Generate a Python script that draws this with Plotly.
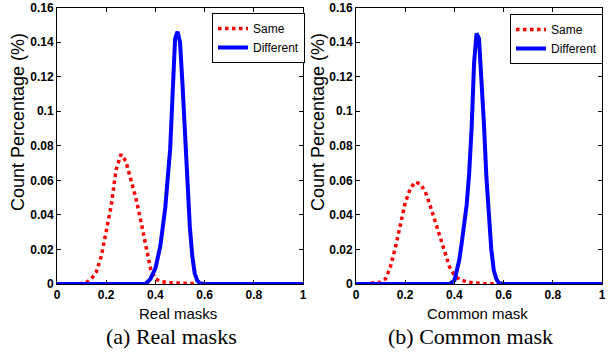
import plotly.graph_objects as go

# ---- data ----
same_a_x = [0.09, 0.1, 0.12, 0.14, 0.16, 0.18, 0.2, 0.22, 0.24, 0.26, 0.28, 0.3, 0.32, 0.34, 0.36, 0.38, 0.4, 0.42, 0.45, 0.5, 0.55, 0.6]
same_a_y = [0, 0.0005, 0.001, 0.003, 0.007, 0.016, 0.031, 0.045, 0.066, 0.075, 0.071, 0.061, 0.05, 0.037, 0.023, 0.009, 0.003, 0.0015, 0.0008, 0.0005, 0.0003, 0]

diff_a_x = [0, 0.36, 0.38, 0.4, 0.42, 0.44, 0.46, 0.47, 0.48, 0.49, 0.5, 0.51, 0.52, 0.53, 0.54, 0.55, 0.56, 0.57, 0.58, 0.6, 0.76, 0.86, 1.0]
diff_a_y = [0, 0, 0.003, 0.009, 0.022, 0.044, 0.078, 0.108, 0.142, 0.146, 0.14, 0.116, 0.085, 0.057, 0.033, 0.016, 0.006, 0.002, 0.0005, 0, 0, 0.0003, 0]

same_b_x = [0.06, 0.08, 0.1, 0.12, 0.14, 0.16, 0.18, 0.2, 0.22, 0.24, 0.26, 0.28, 0.3, 0.32, 0.34, 0.36, 0.38, 0.4, 0.42, 0.45, 0.48, 0.53, 0.58]
same_b_y = [0.0005, 0.0008, 0.001, 0.003, 0.01, 0.021, 0.033, 0.047, 0.055, 0.059, 0.058, 0.054, 0.046, 0.037, 0.027, 0.018, 0.01, 0.005, 0.0027, 0.0012, 0.0006, 0.0002, 0]

diff_b_x = [0, 0.38, 0.4, 0.41, 0.42, 0.43, 0.44, 0.45, 0.46, 0.47, 0.48, 0.49, 0.5, 0.51, 0.52, 0.53, 0.54, 0.55, 0.56, 0.57, 0.58, 0.6, 1.0]
diff_b_y = [0, 0, 0.002, 0.007, 0.014, 0.024, 0.035, 0.046, 0.064, 0.09, 0.128, 0.145, 0.142, 0.12, 0.093, 0.062, 0.038, 0.02, 0.008, 0.003, 0.0006, 0, 0]

x_ticks = [0, 0.2, 0.4, 0.6, 0.8, 1]
x_tick_text = ["0", "0.2", "0.4", "0.6", "0.8", "1"]
y_ticks = [0, 0.02, 0.04, 0.06, 0.08, 0.1, 0.12, 0.14, 0.16]
y_tick_text = ["0", "0.02", "0.04", "0.06", "0.08", "0.1", "0.12", "0.14", "0.16"]

series_names = ["Same", "Different"]
x_titles = ["Real masks", "Common mask"]
captions = ["(a) Real masks", "(b) Common mask"]
y_title = "Count Percentage (%)"

# ---- figure ----
W, H = 613, 354
RED = "#ff0000"
BLUE = "#0000ff"

fig = go.Figure()
panels = [
    (same_a_x, same_a_y, diff_a_x, diff_a_y, "x", "y", "legend"),
    (same_b_x, same_b_y, diff_b_x, diff_b_y, "x2", "y2", "legend2"),
]
for sx, sy, dx, dy, xa, ya, lg in panels:
    fig.add_trace(go.Scatter(x=sx, y=sy, mode="lines", name=series_names[0],
                             line=dict(color=RED, width=3.5, dash="dot"),
                             xaxis=xa, yaxis=ya, legend=lg))
    fig.add_trace(go.Scatter(x=dx, y=dy, mode="lines", name=series_names[1],
                             line=dict(color=BLUE, width=4),
                             xaxis=xa, yaxis=ya, legend=lg))

def px_x(p):
    return p / W

def px_y(p):
    return 1 - p / H

ydom = [px_y(284), px_y(7.5)]
tickfont = dict(family="Liberation Sans, Arial", size=12, color="black", weight="bold")
axis_common = dict(showgrid=False, zeroline=False, showline=True, linecolor="black",
                   linewidth=1, mirror="ticks", ticks="inside", ticklen=4,
                   tickcolor="black", tickfont=tickfont, automargin=False)
legfont = dict(family="Liberation Sans, Arial", size=12, color="black")

fig.update_layout(
    width=W, height=H,
    margin=dict(l=0, r=0, t=0, b=0, autoexpand=False),
    paper_bgcolor="white", plot_bgcolor="white",
    showlegend=True,
    xaxis=dict(domain=[px_x(57), px_x(303)], range=[0, 1], tickvals=x_ticks,
               ticktext=x_tick_text, anchor="y", **axis_common),
    yaxis=dict(domain=ydom, range=[0, 0.16], tickvals=y_ticks,
               ticktext=y_tick_text, anchor="x", **axis_common),
    xaxis2=dict(domain=[px_x(356), px_x(602)], range=[0, 1], tickvals=x_ticks,
                ticktext=x_tick_text, anchor="y2", **axis_common),
    yaxis2=dict(domain=ydom, range=[0, 0.16], tickvals=y_ticks,
                ticktext=y_tick_text, anchor="x2", **axis_common),
    legend=dict(x=px_x(212), y=px_y(13), xanchor="left", yanchor="top",
                bordercolor="black", borderwidth=1, bgcolor="white",
                font=legfont, itemwidth=30, tracegroupgap=0),
    legend2=dict(x=px_x(510), y=px_y(14), xanchor="left", yanchor="top",
                 bordercolor="black", borderwidth=1, bgcolor="white",
                 font=legfont, itemwidth=30, tracegroupgap=0),
)

ann = []
for cx, xt in [(178, x_titles[0]), (477, x_titles[1])]:
    ann.append(dict(x=px_x(cx), y=px_y(313), xref="paper", yref="paper", text=xt,
                    showarrow=False, xanchor="center", yanchor="middle",
                    font=dict(family="Liberation Sans, Arial", size=15, color="black")))
for cx, cap in [(171, captions[0]), (470, captions[1])]:
    ann.append(dict(x=px_x(cx), y=px_y(336), xref="paper", yref="paper", text=cap,
                    showarrow=False, xanchor="center", yanchor="middle",
                    font=dict(family="Liberation Serif, Times New Roman", size=22, color="black")))
for cx in [18, 318]:
    ann.append(dict(x=px_x(cx), y=px_y(122), xref="paper", yref="paper", text=y_title,
                    showarrow=False, xanchor="center", yanchor="middle", textangle=-90,
                    font=dict(family="Liberation Sans, Arial", size=18, color="black")))
fig.update_layout(annotations=ann)

fig.write_html("out.html", config={"displayModeBar": False},
               post_script="document.body.style.margin='0px';document.body.style.overflow='hidden';")
